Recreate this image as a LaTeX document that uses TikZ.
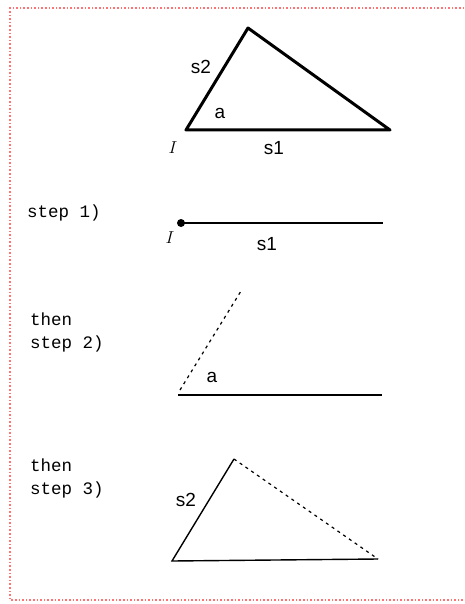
\documentclass[tikz,border=0pt]{standalone}
\usepackage{fontspec}
\setmainfont{Liberation Sans}
\newfontfamily\stepfont{Liberation Mono}
\tikzset{
  lbl/.style={font=\fontsize{19}{20}\selectfont, inner sep=0pt},
  steplbl/.style={font=\stepfont\fontsize{17.5}{23}\selectfont, inner sep=0pt, anchor=west, align=left},
  vtx/.style={font=\fontsize{18}{18}\selectfont, inner sep=0pt},
  thin side/.style={line width=1.4pt},
  guess/.style={line width=1.2pt, dash pattern=on 3pt off 4pt}
}
\begin{document}
\begin{tikzpicture}[x=1pt, y=-1pt]
	\useasboundingbox (0,0) rectangle (464,604);
	\draw[red!55, dotted, line width=1.6pt] (475,8) -- (10,8) -- (10,600) -- (475,600);
	% the triangle to be built
	\coordinate (A) at (186,130); \coordinate (B) at (248,28); \coordinate (C) at (390,130);
	\draw[line width=3pt, line join=round] (A) -- (B) -- (C) -- cycle;
	\node[lbl] (s2top) at (201,67) {s2};
	\node[lbl] (atop) at (220,113) {a};
	\node[vtx] (Itop) at (173,148) {$I$};
	\node[lbl] (s1top) at (274,148) {s1};
	% step 1: side s1 from the start point
	\node[steplbl] (step1) at (27,213) {step 1)};
	\coordinate (P1) at (181,223); \coordinate (Q1) at (383,223);
	\draw[thin side] (P1) -- (Q1);
	\fill (P1) circle (4pt);
	\node[vtx] (I1) at (170,238) {$I$};
	\node[lbl] (s1b) at (267,244) {s1};
	% step 2: angle a
	\node[steplbl] (step2) at (30,332) {then\\step 2)};
	\coordinate (P2) at (178,395); \coordinate (Q2) at (382,395);
	\coordinate (D2) at (180,390); \coordinate (R2) at (241,291);
	\draw[thin side] (P2) -- (Q2);
	\draw[guess] (D2) -- (R2);
	\node[lbl] (a2) at (212,377) {a};
	% step 3: side s2, then close
	\node[steplbl] (step3) at (30,478) {then\\step 3)};
	\coordinate (P3) at (172,561); \coordinate (R3) at (234,459); \coordinate (Q3) at (378,559);
	\draw[thin side] (R3) -- (P3) -- (Q3);
	\draw[guess] (R3) -- (Q3);
	\node[lbl] (s2b) at (186,500) {s2};
\end{tikzpicture}
\end{document}
